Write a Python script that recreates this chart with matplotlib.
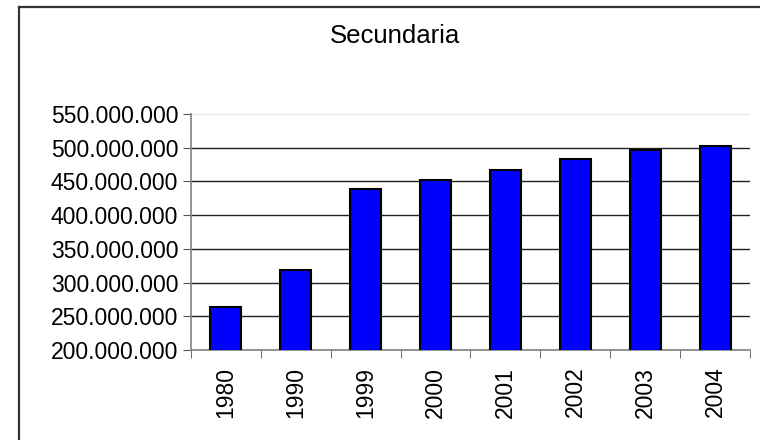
import matplotlib
matplotlib.use('Agg')
import matplotlib.pyplot as plt
from matplotlib.ticker import FuncFormatter, FixedLocator
from matplotlib.lines import Line2D

#----data----#
years = ['1980', '1990', '1999', '2000', '2001', '2002', '2003', '2004']
valores = [264e6, 318e6, 439e6, 452e6, 467e6, 483e6, 496e6, 502e6]
y_ticks = [200e6, 250e6, 300e6, 350e6, 400e6, 450e6, 500e6, 550e6]

plt.rcParams['font.family'] = ['Liberation Sans', 'DejaVu Sans']

fig = plt.figure(figsize=(7.6, 4.4), dpi=100)
fig.patch.set_facecolor('white')

# outer chart border, only left and top are inside the picture
bx, by = 19 / 760, 1 - 7 / 440
fig.lines.append(Line2D([bx, bx], [0, by], transform=fig.transFigure, color='#333333', linewidth=1.6))
fig.lines.append(Line2D([bx, 1], [by, by], transform=fig.transFigure, color='#333333', linewidth=1.6))

ax = fig.add_axes([0.251, 0.2045, 0.736, 0.5365])

x = list(range(len(years)))
ax.bar(x, valores, width=0.44, color='#0000FF', edgecolor='black', linewidth=1.5, zorder=3)

ax.set_xlim(-0.5, len(years) - 0.5)
ax.set_ylim(200e6, 550e6)

# gridlines
for v in y_ticks[1:-1]:
    ax.axhline(v, color='#222222', linewidth=1, zorder=1)
ax.axhline(550e6, color='#e6e6e6', linewidth=1, zorder=1)

ax.yaxis.set_major_locator(FixedLocator(y_ticks))
ax.yaxis.set_major_formatter(FuncFormatter(lambda v, p: f'{int(round(v)):,}'.replace(',', '.')))
ax.set_xticks(x)
ax.set_xticklabels(years, rotation=90)
ax.xaxis.set_minor_locator(FixedLocator([i - 0.5 for i in range(len(years) + 1)]))

ax.tick_params(axis='x', which='major', length=0, pad=12, labelsize=16.5)
ax.tick_params(axis='x', which='minor', length=6, color='#555555', direction='out')
ax.tick_params(axis='y', length=6, color='#555555', labelsize=16.5, pad=3)

for s in ['top', 'right']:
    ax.spines[s].set_visible(False)
for s in ['left', 'bottom']:
    ax.spines[s].set_color('#808080')
    ax.spines[s].set_linewidth(1.2)

fig.text(395 / 760, 1 - 36 / 440, 'Secundaria', ha='center', va='center', fontsize=18.5)

fig.savefig('out.png', dpi=100)
